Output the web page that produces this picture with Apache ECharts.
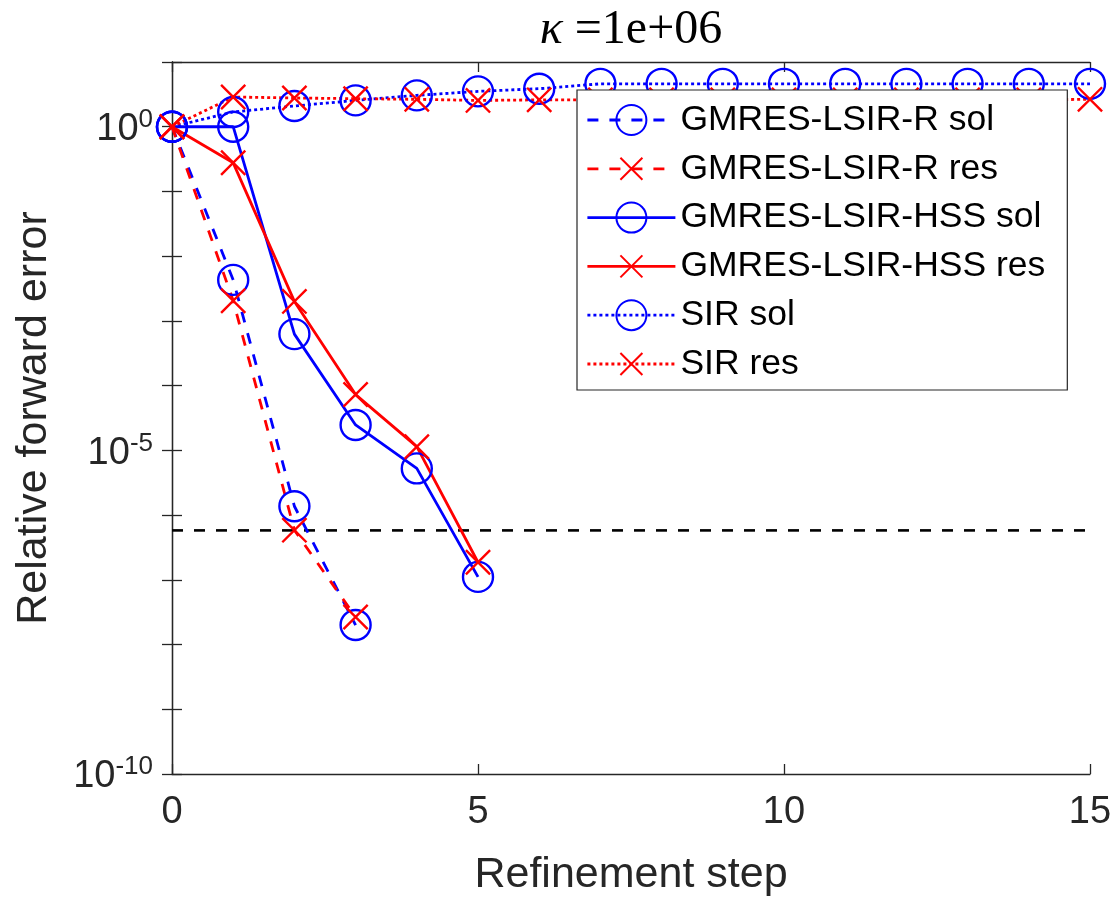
<!DOCTYPE html>
<html>
<head>
<meta charset="utf-8">
<script src="https://cdn.jsdelivr.net/npm/echarts@6/dist/echarts.min.js"></script>
<style>html,body{margin:0;padding:0;background:#fff;}#c{width:1116px;height:897px;}</style>
</head>
<body>
<div id="c"></div>
<script>
// ---- data ----
const titleText = '=1e+06';
const xLabelName = 'Refinement step';
const yLabelName = 'Relative forward error';
const xTicks = [0, 5, 10, 15];
const yLabelExps = [0, -5, -10];

const rSteps   = [0, 1, 2, 3];
const rSol     = [1, 4.3e-3, 1.37e-6, 2.0e-8];
const rRes     = [1, 2.05e-3, 5.85e-7, 2.66e-8];

const hssSteps = [0, 1, 2, 3, 4, 5];
const hssSol   = [1, 1.0, 6.25e-4, 2.47e-5, 5.26e-6, 1.11e-7];
const hssRes   = [1, 0.277, 2.0e-3, 7.28e-5, 1.14e-5, 1.87e-7];

const sirSteps = [0, 1, 2, 3, 4, 5, 6, 7, 8, 9, 10, 11, 12, 13, 14, 15];
const sirSol   = [1, 1.69, 2.09, 2.55, 3.05, 3.52, 3.87, 4.6, 4.6, 4.6, 4.6, 4.6, 4.6, 4.6, 4.6, 4.6];
const sirRes   = [1, 2.88, 2.78, 2.71, 2.65, 2.55, 2.6, 2.6, 2.6, 2.6, 2.6, 2.6, 2.6, 2.6, 2.6, 2.65];

const tolLevel = 5.8e-7;

const names = ['GMRES-LSIR-R sol', 'GMRES-LSIR-R res', 'GMRES-LSIR-HSS sol',
               'GMRES-LSIR-HSS res', 'SIR sol', 'SIR res'];

// ---- styling ----
const BLUE = '#0000ff', RED = '#ff0000', AX = '#262626';
const FONT = '"Liberation Sans", Arial, Helvetica, sans-serif';
const CROSS = 'path://M-4,-4M0,0L22,22M22,0L0,22M26,26';
const DASH = [11, 11], DOT = [3, 3];

function pairs(xs, ys) { return xs.map((x, i) => [x, ys[i]]); }

function mk(name, xs, ys, color, marker, dash) {
  const isCircle = marker === 'circle';
  return {
    name: name,
    type: 'line',
    data: pairs(xs, ys),
    clip: false,
    symbol: isCircle ? 'circle' : CROSS,
    symbolSize: isCircle ? 30 : 33,
    showSymbol: true,
    showAllSymbol: true,
    lineStyle: { color: color, width: 2.8, type: dash, cap: 'butt' },
    itemStyle: { color: 'rgba(0,0,0,0)', borderColor: color, borderWidth: 2.4 },
    emphasis: { disabled: true },
    animation: false
  };
}

const series = [
  mk(names[0], rSteps, rSol, BLUE, 'circle', DASH),
  mk(names[1], rSteps, rRes, RED, 'cross', DASH),
  mk(names[2], hssSteps, hssSol, BLUE, 'circle', 'solid'),
  mk(names[3], hssSteps, hssRes, RED, 'cross', 'solid'),
  mk(names[4], sirSteps, sirSol, BLUE, 'circle', DOT),
  mk(names[5], sirSteps, sirRes, RED, 'cross', DOT),
  {
    name: 'tol',
    type: 'line',
    data: [[xTicks[0], tolLevel], [xTicks[xTicks.length - 1], tolLevel]],
    symbol: 'none',
    lineStyle: { color: '#000', width: 2.6, type: [11, 11], cap: 'butt' },
    emphasis: { disabled: true },
    animation: false,
    z: 1
  }
];

function yFmt(v) {
  const e = Math.round(Math.log10(v));
  if (yLabelExps.indexOf(e) < 0) return '';
  return '{b|10}{s|' + e + '}';
}

const xBase = {
  type: 'value', min: xTicks[0], max: xTicks[xTicks.length - 1], interval: 5,
  axisLine: { show: true, onZero: false, lineStyle: { color: AX, width: 1.3 } },
  axisTick: { show: true, inside: true, length: 10, lineStyle: { color: AX, width: 1.3 } },
  splitLine: { show: false }
};
const yBase = {
  type: 'log', logBase: 10, min: 1e-10, max: 10, interval: 1,
  axisLine: { show: true, lineStyle: { color: AX, width: 1.3 } },
  axisTick: { show: true, inside: true, length: 10, lineStyle: { color: AX, width: 1.3 } },
  splitLine: { show: false },
  minorTick: { show: false }
};

const option = {
  backgroundColor: '#ffffff',
  animation: false,
  grid: { left: 172, right: 26, top: 62, bottom: 123, containLabel: false, outerBoundsMode: 'none' },
  graphic: [{
    type: 'text',
    x: 631, y: 30,
    style: {
      text: '{k|κ} ' + titleText,
      fontFamily: '"Liberation Serif", "DejaVu Serif", serif',
      fontSize: 48,
      fill: '#000',
      align: 'center',
      verticalAlign: 'middle',
      rich: {
        k: { fontStyle: 'italic', fontFamily: '"Liberation Serif", "DejaVu Serif", serif', fontSize: 48, fill: '#000' }
      }
    }
  }],
  xAxis: [
    Object.assign({}, xBase, {
      position: 'bottom',
      name: xLabelName, nameLocation: 'middle', nameGap: 80,
      nameTextStyle: { fontFamily: FONT, fontSize: 43, color: AX },
      axisLabel: { show: true, margin: 20, fontFamily: FONT, fontSize: 38, color: AX,
                   showMinLabel: true, showMaxLabel: true }
    }),
    Object.assign({}, xBase, { position: 'top', axisLabel: { show: false } })
  ],
  yAxis: [
    Object.assign({}, yBase, {
      position: 'left',
      name: yLabelName, nameLocation: 'middle', nameGap: 116, nameRotate: 90,
      nameTextStyle: { fontFamily: FONT, fontSize: 43, color: AX },
      axisLabel: {
        show: true, margin: 19, formatter: yFmt, color: AX,
        showMinLabel: true, showMaxLabel: true,
        rich: {
          b: { fontFamily: FONT, fontSize: 38, color: AX, padding: [6, 0, 0, 0] },
          s: { fontFamily: FONT, fontSize: 26, color: AX, padding: [0, 0, 14, 0] }
        }
      }
    }),
    Object.assign({}, yBase, { position: 'right', axisLabel: { show: false } })
  ],
  legend: {
    data: names,
    orient: 'vertical',
    left: 577, top: 90,
    padding: [12, 22, 8, 9],
    itemWidth: 88, itemHeight: 37.5, itemGap: 12.8,
    backgroundColor: '#ffffff',
    borderColor: AX, borderWidth: 1.2,
    lineStyle: { width: 2.8 },
    textStyle: { fontFamily: FONT, fontSize: 35.5, color: '#000' },
    selectedMode: false
  },
  series: series
};

const chart = echarts.init(document.getElementById('c'), null, { renderer: 'canvas' });
chart.setOption(option);
</script>
</body>
</html>
